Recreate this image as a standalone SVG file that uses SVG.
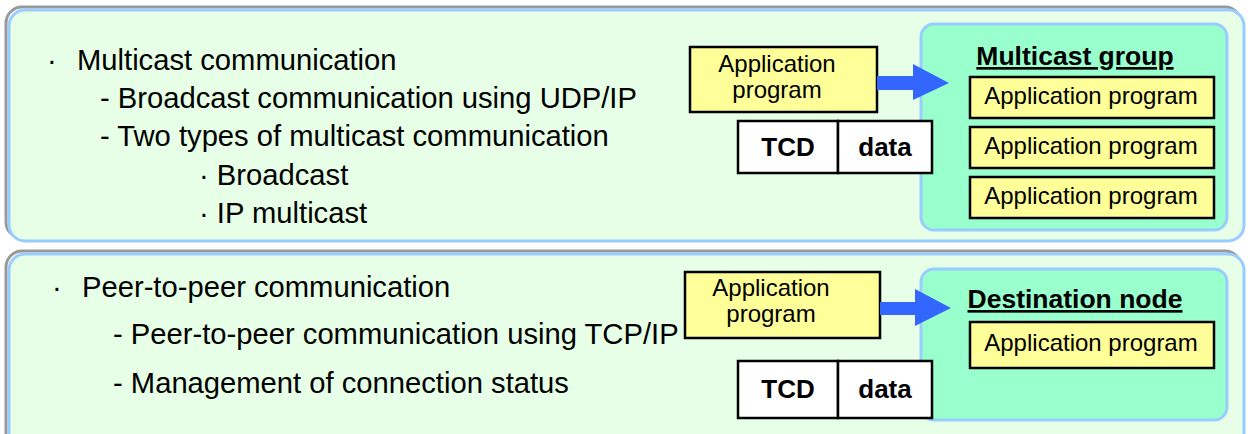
<svg xmlns="http://www.w3.org/2000/svg" width="1251" height="434" viewBox="0 0 1251 434">
<defs>
<style>
.shadow{fill:none;stroke:#999999;stroke-width:3}
.panel{fill:#e6ffe6;stroke:#99ccff;stroke-width:3}
.group{fill:#99ffcc;stroke:#99ccff;stroke-width:3}
.app{fill:#ffff99;stroke:#000;stroke-width:2.5}
.pkt{fill:#ffffff;stroke:#000;stroke-width:2.5}
.big{font-family:"Liberation Sans",Arial,sans-serif;font-size:29.2px;fill:#000}
.sm{font-family:"Liberation Sans",Arial,sans-serif;font-size:24px;fill:#000}
.title{font-family:"Liberation Sans",Arial,sans-serif;font-size:26.5px;font-weight:bold;fill:#000;text-decoration:underline}
.bold{font-family:"Liberation Sans",Arial,sans-serif;font-size:26px;font-weight:bold;fill:#000}
.arrow{fill:#3366ff}
</style>
</defs>
<g id="panel-multicast">
<rect class="shadow" x="6" y="7" width="1235" height="231" rx="16"/>
<rect class="panel" x="9" y="10" width="1235" height="231" rx="16"/>
<text class="big" x="47" y="70">·</text>
<text class="big" x="77" y="70">Multicast communication</text>
<text class="big" x="100" y="108">- Broadcast communication using UDP/IP</text>
<text class="big" x="100" y="146">- Two types of multicast communication</text>
<text class="big" x="199" y="185">· Broadcast</text>
<text class="big" x="199" y="223">· IP multicast</text>
</g>
<g id="panel-p2p">
<rect class="shadow" x="6" y="251" width="1235" height="200" rx="16"/>
<rect class="panel" x="9" y="254" width="1235" height="200" rx="16"/>
<text class="big" x="52" y="297">·</text>
<text class="big" x="82" y="297">Peer-to-peer communication</text>
<text class="big" x="113" y="344">- Peer-to-peer communication using TCP/IP</text>
<text class="big" x="113" y="393">- Management of connection status</text>
</g>
<g id="multicast-group">
<rect class="group" x="921" y="24" width="306" height="206" rx="13"/>
<text class="title" x="1075" y="65" text-anchor="middle">Multicast group</text>
<rect class="app" x="970" y="77" width="244" height="41"/>
<text class="sm" x="1091" y="104" text-anchor="middle">Application program</text>
<rect class="app" x="970" y="127" width="244" height="41"/>
<text class="sm" x="1091" y="154" text-anchor="middle">Application program</text>
<rect class="app" x="970" y="177" width="244" height="41"/>
<text class="sm" x="1091" y="204" text-anchor="middle">Application program</text>
</g>
<g id="sender-multicast">
<rect class="app" x="690" y="47" width="187" height="65"/>
<text class="sm" x="777" y="72" text-anchor="middle">Application</text>
<text class="sm" x="777" y="98" text-anchor="middle">program</text>
</g>
<g id="packet-multicast">
<rect class="pkt" x="738" y="121" width="100" height="52"/>
<rect class="pkt" x="838" y="121" width="94" height="52"/>
<text class="bold" x="788" y="156" text-anchor="middle">TCD</text>
<text class="bold" x="885" y="156" text-anchor="middle">data</text>
</g>
<g id="destination-node">
<rect class="group" x="921" y="269" width="306" height="151" rx="13"/>
<text class="title" x="1075" y="308" text-anchor="middle">Destination node</text>
<rect class="app" x="970" y="322" width="244" height="46"/>
<text class="sm" x="1091" y="351" text-anchor="middle">Application program</text>
</g>
<g id="sender-p2p">
<rect class="app" x="685" y="272" width="195" height="66"/>
<text class="sm" x="771" y="296" text-anchor="middle">Application</text>
<text class="sm" x="771" y="322" text-anchor="middle">program</text>
</g>
<g id="packet-p2p">
<rect class="pkt" x="738" y="361" width="100" height="57"/>
<rect class="pkt" x="838" y="361" width="94" height="57"/>
<text class="bold" x="788" y="398" text-anchor="middle">TCD</text>
<text class="bold" x="885" y="398" text-anchor="middle">data</text>
</g>
<g id="connectors">
<polygon class="arrow" points="877,76 913,76 913,64 949,83 913,100 913,90 877,90"/>
<polygon class="arrow" points="880,302 915,302 915,289 951,308 915,326 915,315 880,315"/>
</g>
</svg>
